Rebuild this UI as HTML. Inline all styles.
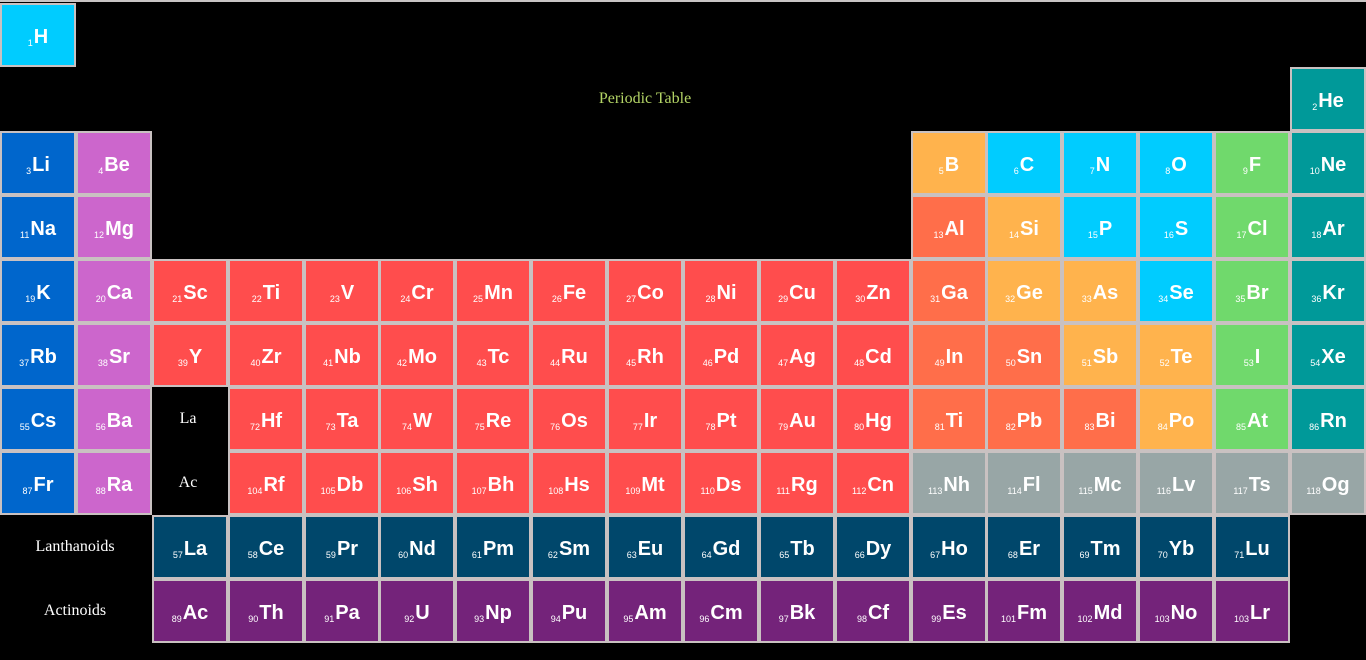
<!DOCTYPE html>
<html><head><meta charset="utf-8">
<style>
html,body{margin:0;padding:0;background:#000;width:1366px;height:660px;overflow:hidden;position:relative;font-family:"Liberation Sans",sans-serif}
#topline{position:absolute;left:0;top:0;width:1366px;height:2px;background:#c8c4c4}
.cell{position:absolute;width:76px;height:64px;box-sizing:border-box;border:2px solid #c9c1c1;color:#fff;display:flex;align-items:center;justify-content:center;font-weight:bold}
.cell .sym{font-size:20px;line-height:1;margin-top:3px}
.cell .num{font-size:9px;font-weight:normal;align-self:center;margin-top:16px;margin-right:1px}
.lbl{position:absolute;color:#fff;font-family:"Liberation Serif",serif;font-size:16px;text-align:center}
#title{position:absolute;left:545px;top:90px;width:200px;text-align:center;color:#b3d465;font-family:"Liberation Serif",serif;font-size:16px}
</style></head><body>
<div id="topline"></div>
<div id="title">Periodic Table</div>
<div class="lbl" style="left:152px;top:410px;width:72px">La</div>
<div class="lbl" style="left:152px;top:474px;width:72px">Ac</div>
<div class="lbl" style="left:0;top:538px;width:150px">Lanthanoids</div>
<div class="lbl" style="left:0;top:602px;width:150px">Actinoids</div>
<div id="table"></div>
<script>
const colors={h:'#00ccff',alk:'#0066cc',ae:'#cc66cc',tr:'#ff4d4d',pt:'#ff6e4a',md:'#ffb34d',nm:'#00ccff',hal:'#70d96c',ng:'#009999',un:'#98a6a6',la:'#00476b',ac:'#74237a'};
// [number, symbol, column, row, category]
const elements=[
[1,'H',0,0,'h'],[2,'He',17,1,'ng'],
[3,'Li',0,2,'alk'],[4,'Be',1,2,'ae'],[5,'B',12,2,'md'],[6,'C',13,2,'nm'],[7,'N',14,2,'nm'],[8,'O',15,2,'nm'],[9,'F',16,2,'hal'],[10,'Ne',17,2,'ng'],
[11,'Na',0,3,'alk'],[12,'Mg',1,3,'ae'],[13,'Al',12,3,'pt'],[14,'Si',13,3,'md'],[15,'P',14,3,'nm'],[16,'S',15,3,'nm'],[17,'Cl',16,3,'hal'],[18,'Ar',17,3,'ng']
];
const r4=['K','Ca','Sc','Ti','V','Cr','Mn','Fe','Co','Ni','Cu','Zn','Ga','Ge','As','Se','Br','Kr'];
const r5=['Rb','Sr','Y','Zr','Nb','Mo','Tc','Ru','Rh','Pd','Ag','Cd','In','Sn','Sb','Te','I','Xe'];
const r6=['Cs','Ba',null,'Hf','Ta','W','Re','Os','Ir','Pt','Au','Hg','Ti','Pb','Bi','Po','At','Rn'];
const r7=['Fr','Ra',null,'Rf','Db','Sh','Bh','Hs','Mt','Ds','Rg','Cn','Nh','Fl','Mc','Lv','Ts','Og'];
const n6=[55,56,null,72,73,74,75,76,77,78,79,80,81,82,83,84,85,86];
const n7=[87,88,null,104,105,106,107,108,109,110,111,112,113,114,115,116,117,118];
const cat4=['alk','ae','tr','tr','tr','tr','tr','tr','tr','tr','tr','tr','pt','md','md','nm','hal','ng'];
const cat5=['alk','ae','tr','tr','tr','tr','tr','tr','tr','tr','tr','tr','pt','pt','md','md','hal','ng'];
const cat6=['alk','ae',null,'tr','tr','tr','tr','tr','tr','tr','tr','tr','pt','pt','pt','md','hal','ng'];
const cat7=['alk','ae',null,'tr','tr','tr','tr','tr','tr','tr','tr','tr','un','un','un','un','un','un'];
r4.forEach((s,i)=>elements.push([19+i,s,i,4,cat4[i]]));
r5.forEach((s,i)=>elements.push([37+i,s,i,5,cat5[i]]));
r6.forEach((s,i)=>{if(s)elements.push([n6[i],s,i,6,cat6[i]]);});
r7.forEach((s,i)=>{if(s)elements.push([n7[i],s,i,7,cat7[i]]);});
const lan=['La','Ce','Pr','Nd','Pm','Sm','Eu','Gd','Tb','Dy','Ho','Er','Tm','Yb','Lu'];
const act=['Ac','Th','Pa','U','Np','Pu','Am','Cm','Bk','Cf','Es','Fm','Md','No','Lr'];
const actNums=[89,90,91,92,93,94,95,96,97,98,99,101,102,103,103];
lan.forEach((s,i)=>elements.push([57+i,s,2+i,8,'la']));
act.forEach((s,i)=>elements.push([actNums[i],s,2+i,9,'ac']));
const tbl=document.getElementById('table');
const colX=c=>Math.round(c*75.88), rowY=r=>3+r*64;
elements.forEach(e=>{
  const d=document.createElement('div');
  d.className='cell';
  
  
  d.style.left=colX(e[2])+'px';
  d.style.top=rowY(e[3])+'px';
  d.style.background=colors[e[4]];
  const n=document.createElement('span');n.className='num';n.textContent=e[0];
  
  
  const s=document.createElement('span');s.className='sym';s.textContent=e[1];
  
  
  d.appendChild(n);d.appendChild(s);tbl.appendChild(d);
});
</script>
</body></html>
